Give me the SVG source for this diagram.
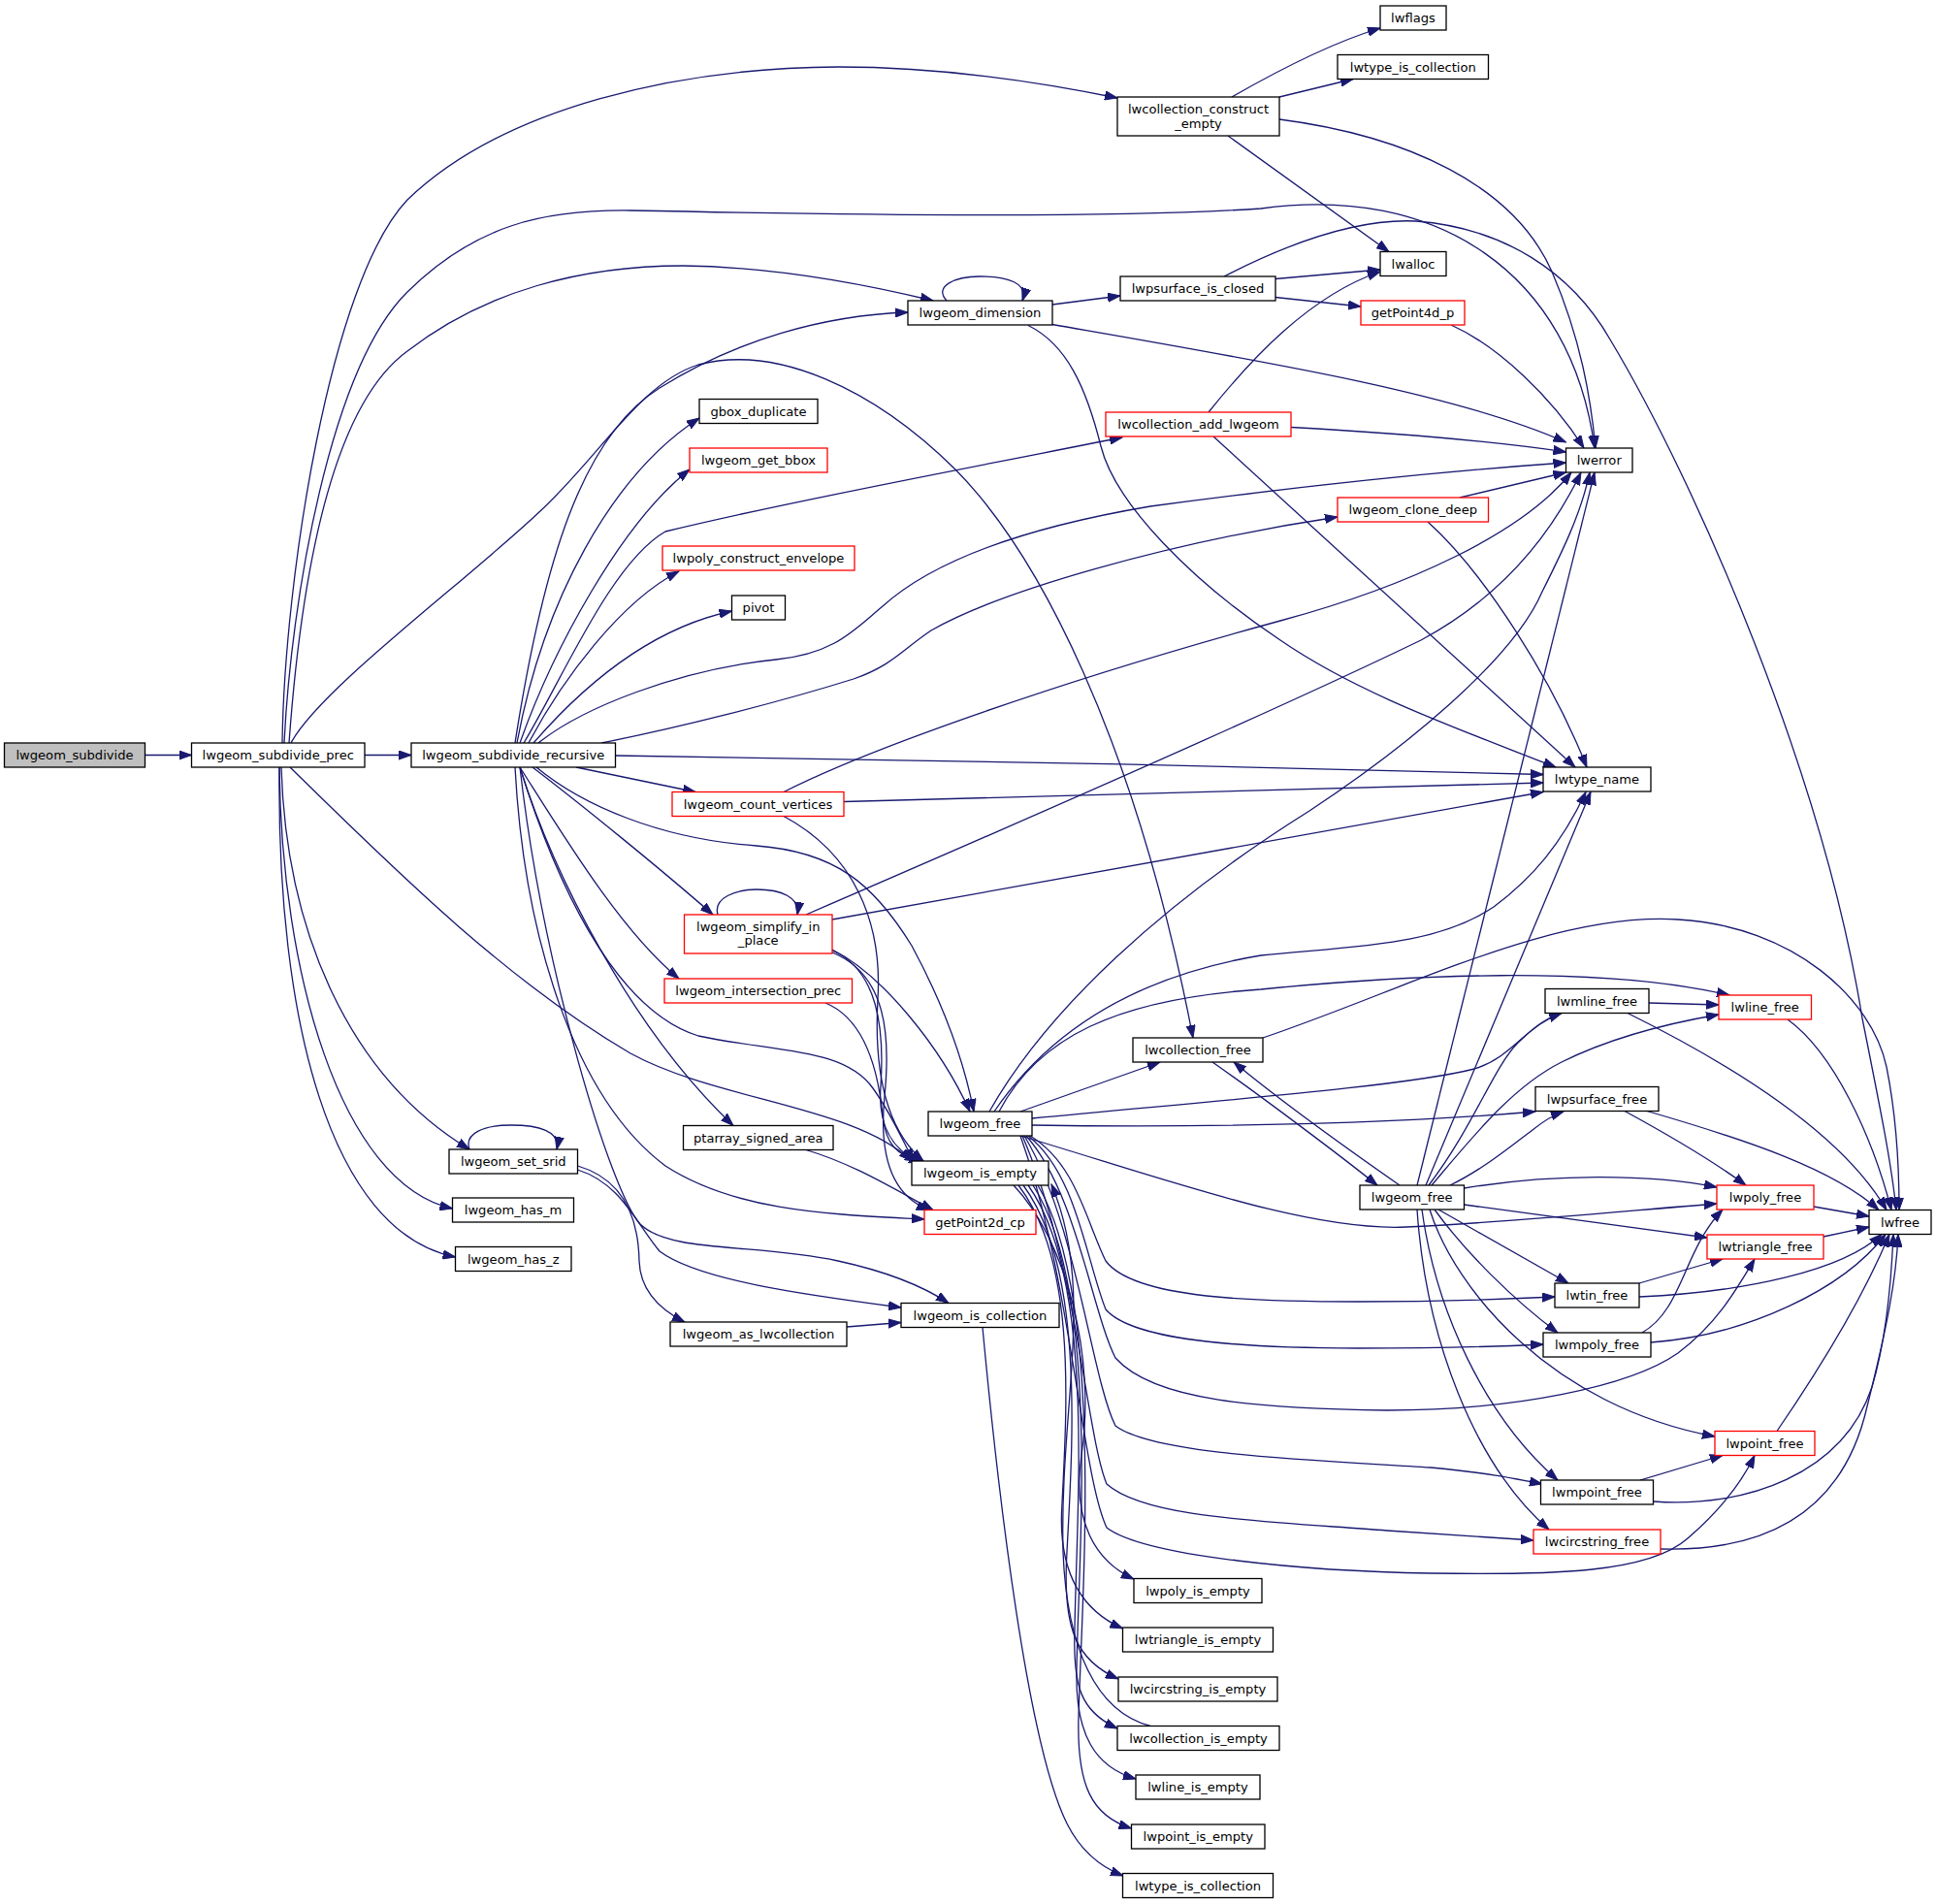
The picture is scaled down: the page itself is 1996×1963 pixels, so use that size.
<svg xmlns="http://www.w3.org/2000/svg" width="1996" height="1963" viewBox="0 0 1996 1963">
<style>
.node rect{fill:#ffffff;stroke:#000000;stroke-width:1.3}
.node rect.red{stroke:#ff0000}
.node rect.root{fill:#bfbfbf}
.node text{font-family:"DejaVu Sans","Liberation Sans",sans-serif;font-size:13.1px;text-anchor:middle;fill:#000000}
.edges path{fill:none;stroke:#191970;stroke-width:1.3;marker-end:url(#arr)}
</style>
<defs>
<marker id="arr" markerUnits="userSpaceOnUse" markerWidth="14" markerHeight="10" viewBox="0 0 14 10" refX="13" refY="5" orient="auto">
<path d="M0,0.4L13,5L0,9.6z" fill="#191970" stroke="#191970" stroke-width="1"/>
</marker>
</defs>
<rect x="0" y="0" width="1996" height="1963" fill="#ffffff"/>
<g id="edges" class="edges">
<path d="M149.5,778.5 L197.5,778.5"/>
<path d="M376,778.5 L424,778.5"/>
<path d="M291,766 C293,600 340,290 420,206 C520,110 700,70 864,69 C960,69 1060,82 1152,101"/>
<path d="M293,766 C300,620 340,380 420,301 C490,232 560,216 650,217 C900,222 1150,225 1300,215 C1480,190 1620,280 1644,462"/>
<path d="M298,766 C310,600 340,420 420,362 C500,300 600,274 704,274 C800,275 900,295 962,310"/>
<path d="M300,766 C330,710 480,600 558,526 C620,468 660,395 720,376 C800,355 900,400 985,484 C1070,570 1170,760 1230,1070"/>
<path d="M299,791 C400,890 520,1010 650,1086 C740,1135 880,1140 940,1197"/>
<path d="M290,791 C295,960 360,1110 484,1185"/>
<path d="M288,791 C290,1000 350,1220 466.5,1246"/>
<path d="M288,791 C285,1050 340,1270 469.5,1296"/>
<path d="M531,766 C560,580 600,450 680,400 C760,350 850,325 936,322"/>
<path d="M533,766 C560,620 630,490 721,431"/>
<path d="M536,766 C570,670 640,540 711,484"/>
<path d="M540,766 C580,700 630,580 686,548 C800,520 1000,482 1157,451"/>
<path d="M545,766 C580,700 640,620 700,589"/>
<path d="M550,766 C590,720 660,650 754.5,630"/>
<path d="M555,766 C600,730 700,690 800,680 C860,674 880,650 910,625 C960,580 1050,545 1186,522 C1350,500 1500,485 1614.5,477"/>
<path d="M620,766 C700,750 800,725 880,700 C920,686 930,670 960,650 C1030,610 1200,560 1379,533"/>
<path d="M634.5,779 C900,782 1300,790 1591,798.5"/>
<path d="M594,791 L717,816.5"/>
<path d="M549,791 C600,830 680,895 735,943"/>
<path d="M536,791 C580,860 640,960 700,1009"/>
<path d="M536,791 C570,900 630,1040 720,1068 C800,1085 870,1080 900,1122 C920,1150 930,1175 942,1197"/>
<path d="M536,791 C570,900 650,1060 756,1160.5"/>
<path d="M531,791 C540,960 590,1130 686,1202 C760,1250 860,1252 953,1257"/>
<path d="M536,791 C560,1000 630,1230 660,1262 C690,1292 780,1282 864,1300 C910,1310 950,1325 978,1343.5"/>
<path d="M553,791 C600,830 680,865 780,872 C860,878 900,910 940,975 C975,1040 995,1100 1004,1146"/>
<path d="M808,816.5 C900,770 1100,700 1320,640 C1450,605 1570,550 1620,487"/>
<path d="M870,826.5 L1591,807"/>
<path d="M808,841.5 C880,880 910,950 905,1030 C900,1120 920,1170 952,1197"/>
<path d="M740,943 C735,925 760,917 780,917 C805,917 825,925 822,943"/>
<path d="M831,943 C1000,870 1300,740 1465,660 C1530,625 1590,570 1630,487"/>
<path d="M858,948 L1591,816.5"/>
<path d="M858,979 C910,1005 970,1080 1000,1146"/>
<path d="M858,980 C905,1000 912,1060 908,1120 C905,1160 920,1185 946,1197"/>
<path d="M858,982 C915,1005 918,1070 912,1130 C905,1200 925,1235 958,1247.5"/>
<path d="M851,1034 C890,1050 905,1100 910,1150 C913,1180 925,1192 950,1197"/>
<path d="M831,1185.5 C880,1200 920,1225 962,1247.5"/>
<path d="M1020,1146 C1080,1040 1200,930 1350,836 C1450,770 1560,680 1590,610 C1610,570 1630,530 1639,487"/>
<path d="M1025,1146 C1070,1080 1150,1010 1300,985 C1400,975 1480,975 1540,935 C1580,905 1610,870 1635,816.5"/>
<path d="M1030,1146 C1070,1070 1150,1030 1300,1020 C1450,1005 1650,995 1783,1026"/>
<path d="M1052,1146 L1196,1095"/>
<path d="M1064,1153 C1250,1135 1450,1120 1520,1102 C1560,1090 1575,1055 1610,1044.5"/>
<path d="M1064,1160 C1250,1163 1450,1158 1583,1146"/>
<path d="M1052,1171 C1200,1215 1350,1270 1450,1265 C1560,1260 1680,1248 1770,1241"/>
<path d="M1062,1171 C1110,1200 1120,1260 1140,1300 C1170,1340 1300,1342 1400,1342 C1500,1342 1560,1339 1603,1337"/>
<path d="M1060,1171 C1110,1210 1120,1300 1140,1350 C1170,1385 1300,1390 1400,1390 C1480,1390 1550,1388 1591,1386"/>
<path d="M1058,1171 C1110,1230 1125,1350 1150,1400 C1190,1445 1300,1452 1430,1454 C1560,1454 1680,1430 1730,1395 C1770,1365 1790,1330 1809,1298"/>
<path d="M1056,1171 C1110,1260 1125,1420 1150,1470 C1190,1500 1350,1505 1475,1513 C1530,1518 1560,1524 1590,1530"/>
<path d="M1054,1171 C1110,1300 1120,1480 1141,1530 C1180,1565 1300,1568 1430,1578 C1500,1583 1550,1586 1581,1588"/>
<path d="M1052,1171 C1105,1320 1115,1520 1141,1575 C1180,1605 1350,1620 1475,1622 C1600,1624 1700,1622 1740,1586 C1770,1560 1795,1530 1809,1500.5"/>
<path d="M1045,1222 C1100,1280 1130,1400 1115,1500 C1105,1570 1130,1610 1169,1628"/>
<path d="M1050,1222 C1110,1300 1100,1450 1095,1550 C1090,1620 1115,1660 1157.5,1679"/>
<path d="M1055,1222 C1120,1310 1105,1500 1100,1600 C1095,1680 1110,1712 1153,1731"/>
<path d="M1060,1222 C1130,1320 1110,1550 1108,1680 C1106,1740 1115,1765 1152,1782"/>
<path d="M1065,1222 C1135,1330 1112,1600 1110,1720 C1108,1790 1130,1822 1171,1834"/>
<path d="M1070,1222 C1140,1340 1115,1650 1112,1770 C1110,1840 1125,1872 1166.5,1885"/>
<path d="M1186,1779.5 C1130,1765 1100,1700 1096,1600 C1092,1450 1130,1330 1084,1221"/>
<path d="M1013,1368.5 C1030,1550 1060,1800 1100,1880 C1115,1910 1135,1925 1158,1934"/>
<path d="M484,1185 C478,1168 500,1160 527,1160 C555,1160 578,1166 574,1185"/>
<path d="M595.5,1202 C640,1215 658,1250 659,1300 C660,1330 680,1350 706,1363"/>
<path d="M595.5,1206 C640,1220 655,1260 680,1290 C720,1320 830,1335 929,1348"/>
<path d="M873,1368 L929,1363.5"/>
<path d="M976,310 C962,295 985,285 1010,285 C1040,285 1060,292 1054,310"/>
<path d="M1085,314 L1155,305"/>
<path d="M1085,334.5 C1300,372 1500,405 1614.5,456"/>
<path d="M1060,335.5 C1100,355 1120,400 1135,460 C1150,520 1230,600 1320,660 C1400,715 1500,750 1604,791"/>
<path d="M1315,287.5 L1423,278"/>
<path d="M1315,306.5 L1403,316"/>
<path d="M1262,285 C1330,250 1400,225 1460,228 C1550,235 1620,280 1660,350 C1750,500 1880,800 1920,1050 C1940,1150 1950,1200 1955,1247.5"/>
<path d="M1270,100 C1310,77 1370,45 1423,29"/>
<path d="M1319,100 L1395,81.5"/>
<path d="M1319,123 C1450,140 1560,190 1600,280 C1630,350 1640,410 1645,462"/>
<path d="M1266,140 L1432,259.5"/>
<path d="M1246,425 C1290,370 1350,305 1423,280"/>
<path d="M1331,440.5 C1450,447 1540,455 1614.5,466"/>
<path d="M1251,450 L1624,791"/>
<path d="M1496,335 C1545,357 1600,410 1633,462"/>
<path d="M1505,513 L1614.5,487"/>
<path d="M1472,538 C1530,590 1600,700 1636,791"/>
<path d="M1302,1070 C1450,1020 1600,940 1730,948 C1850,955 1930,1030 1945,1100 C1955,1150 1958,1200 1958,1247.5"/>
<path d="M1250,1095 C1300,1130 1380,1190 1420,1222"/>
<path d="M1443,1222 C1390,1185 1320,1135 1272,1095"/>
<path d="M1461,1222 L1644,487"/>
<path d="M1470,1222 L1640,816.5"/>
<path d="M1473,1222 C1520,1160 1540,1100 1565,1075 C1580,1060 1595,1050 1610,1044.5"/>
<path d="M1476,1222 C1520,1170 1560,1120 1610,1095 C1660,1070 1720,1055 1772,1046"/>
<path d="M1495,1222 C1530,1205 1560,1180 1580,1165 C1590,1157 1600,1150 1612,1146"/>
<path d="M1509.5,1225 C1600,1210 1700,1210 1770,1224"/>
<path d="M1509.5,1242 L1760,1276"/>
<path d="M1483,1247 L1617,1323"/>
<path d="M1479,1247 C1510,1290 1560,1340 1606,1374"/>
<path d="M1474,1247 C1500,1330 1600,1450 1768,1481"/>
<path d="M1466,1247 C1480,1350 1530,1460 1606,1526"/>
<path d="M1461,1247 C1470,1380 1520,1510 1597,1577"/>
<path d="M1700,1034 L1772,1036"/>
<path d="M1678,1044.5 C1790,1100 1900,1170 1945,1247.5"/>
<path d="M1843,1051 C1890,1085 1930,1170 1950,1247.5"/>
<path d="M1675,1145.5 C1720,1170 1770,1200 1800,1222"/>
<path d="M1698,1145.5 C1800,1175 1890,1205 1937,1247.5"/>
<path d="M1870,1244 L1927,1254"/>
<path d="M1880,1275 L1927,1265"/>
<path d="M1690,1323 L1776,1298"/>
<path d="M1690,1337 C1800,1332 1900,1310 1940,1272.5"/>
<path d="M1693,1374 C1735,1350 1735,1290 1776,1247"/>
<path d="M1702,1384 C1800,1377 1900,1330 1944,1272.5"/>
<path d="M1832,1475.5 C1870,1420 1920,1340 1948,1272.5"/>
<path d="M1691,1526 L1776,1500.5"/>
<path d="M1704.5,1548 C1800,1555 1900,1520 1930,1430 C1945,1380 1950,1320 1952,1272.5"/>
<path d="M1712,1597 C1820,1600 1900,1560 1925,1450 C1945,1370 1955,1320 1957,1272.5"/>
</g>
<g id="n_lwgeom_subdivide" class="node"><rect class="root" x="4.5" y="766" width="145" height="25"/><text x="77" y="783">lwgeom_subdivide</text></g>
<g id="n_lwgeom_subdivide_prec" class="node"><rect x="197.5" y="766" width="178.5" height="25"/><text x="286.75" y="783">lwgeom_subdivide_prec</text></g>
<g id="n_lwgeom_subdivide_recursive" class="node"><rect x="424" y="766" width="210.5" height="25"/><text x="529.25" y="783">lwgeom_subdivide_recursive</text></g>
<g id="n_lwcollection_construct_empty" class="node"><rect x="1152" y="100" width="167" height="40"/><text x="1235.5" y="116.5">lwcollection_construct</text><text x="1235.5" y="131.5">_empty</text></g>
<g id="n_lwflags" class="node"><rect x="1423" y="6" width="68" height="25"/><text x="1457" y="23">lwflags</text></g>
<g id="n_lwtype_is_collection_top" class="node"><rect x="1379" y="56.5" width="155.5" height="25"/><text x="1456.75" y="73.5">lwtype_is_collection</text></g>
<g id="n_lwerror" class="node"><rect x="1614.5" y="462" width="68.5" height="25"/><text x="1648.75" y="479">lwerror</text></g>
<g id="n_lwalloc" class="node"><rect x="1423" y="259.5" width="68" height="25"/><text x="1457" y="276.5">lwalloc</text></g>
<g id="n_lwgeom_dimension" class="node"><rect x="936" y="310" width="149" height="25"/><text x="1010.5" y="327">lwgeom_dimension</text></g>
<g id="n_lwpsurface_is_closed" class="node"><rect x="1155" y="285" width="160" height="25"/><text x="1235" y="302">lwpsurface_is_closed</text></g>
<g id="n_getPoint4d_p" class="node"><rect class="red" x="1403" y="310" width="107" height="25"/><text x="1456.5" y="327">getPoint4d_p</text></g>
<g id="n_gbox_duplicate" class="node"><rect x="721" y="411.5" width="122" height="25"/><text x="782" y="428.5">gbox_duplicate</text></g>
<g id="n_lwgeom_get_bbox" class="node"><rect class="red" x="711" y="462" width="142" height="25"/><text x="782" y="479">lwgeom_get_bbox</text></g>
<g id="n_lwcollection_add_lwgeom" class="node"><rect class="red" x="1140" y="425" width="191" height="25"/><text x="1235.5" y="442">lwcollection_add_lwgeom</text></g>
<g id="n_lwpoly_construct_envelope" class="node"><rect class="red" x="683" y="563" width="198" height="25"/><text x="782" y="580">lwpoly_construct_envelope</text></g>
<g id="n_pivot" class="node"><rect x="754.5" y="614" width="55" height="25"/><text x="782" y="631">pivot</text></g>
<g id="n_lwgeom_clone_deep" class="node"><rect class="red" x="1379" y="513" width="155.5" height="25"/><text x="1456.75" y="530">lwgeom_clone_deep</text></g>
<g id="n_lwtype_name" class="node"><rect x="1591" y="791" width="111" height="25"/><text x="1646.5" y="808">lwtype_name</text></g>
<g id="n_lwgeom_count_vertices" class="node"><rect class="red" x="693" y="816.5" width="177" height="25"/><text x="781.5" y="833.5">lwgeom_count_vertices</text></g>
<g id="n_lwgeom_simplify_in_place" class="node"><rect class="red" x="705.5" y="943" width="152.5" height="40"/><text x="781.75" y="959.5">lwgeom_simplify_in</text><text x="781.75" y="974.3">_place</text></g>
<g id="n_lwgeom_intersection_prec" class="node"><rect class="red" x="685" y="1009" width="193.5" height="25"/><text x="781.75" y="1026">lwgeom_intersection_prec</text></g>
<g id="n_lwcollection_free" class="node"><rect x="1168" y="1070" width="134" height="25"/><text x="1235" y="1087">lwcollection_free</text></g>
<g id="n_lwgeom_free_1" class="node"><rect x="957" y="1146" width="107" height="25"/><text x="1010.5" y="1163">lwgeom_free</text></g>
<g id="n_ptarray_signed_area" class="node"><rect x="704.5" y="1160.5" width="154.5" height="25"/><text x="781.75" y="1177.5">ptarray_signed_area</text></g>
<g id="n_lwgeom_is_empty" class="node"><rect x="940" y="1197" width="141" height="25"/><text x="1010.5" y="1214">lwgeom_is_empty</text></g>
<g id="n_getPoint2d_cp" class="node"><rect class="red" x="953" y="1247.5" width="115" height="25"/><text x="1010.5" y="1264.5">getPoint2d_cp</text></g>
<g id="n_lwmline_free" class="node"><rect x="1593" y="1019.5" width="107" height="25"/><text x="1646.5" y="1036.5">lwmline_free</text></g>
<g id="n_lwline_free" class="node"><rect class="red" x="1772" y="1026" width="95.5" height="25"/><text x="1819.75" y="1043">lwline_free</text></g>
<g id="n_lwpsurface_free" class="node"><rect x="1583" y="1120.5" width="127" height="25"/><text x="1646.5" y="1137.5">lwpsurface_free</text></g>
<g id="n_lwgeom_free_2" class="node"><rect x="1402" y="1222" width="107.5" height="25"/><text x="1455.75" y="1239">lwgeom_free</text></g>
<g id="n_lwpoly_free" class="node"><rect class="red" x="1770" y="1222" width="100" height="25"/><text x="1820" y="1239">lwpoly_free</text></g>
<g id="n_lwfree" class="node"><rect x="1927" y="1247.5" width="64" height="25"/><text x="1959" y="1264.5">lwfree</text></g>
<g id="n_lwtriangle_free" class="node"><rect class="red" x="1760" y="1273" width="120" height="25"/><text x="1820" y="1290">lwtriangle_free</text></g>
<g id="n_lwtin_free" class="node"><rect x="1603" y="1323" width="87" height="25"/><text x="1646.5" y="1340">lwtin_free</text></g>
<g id="n_lwmpoly_free" class="node"><rect x="1591" y="1374" width="111" height="25"/><text x="1646.5" y="1391">lwmpoly_free</text></g>
<g id="n_lwpoint_free" class="node"><rect class="red" x="1768" y="1475.5" width="103" height="25"/><text x="1819.5" y="1492.5">lwpoint_free</text></g>
<g id="n_lwmpoint_free" class="node"><rect x="1588.5" y="1526" width="116" height="25"/><text x="1646.5" y="1543">lwmpoint_free</text></g>
<g id="n_lwcircstring_free" class="node"><rect class="red" x="1581" y="1577" width="131" height="25"/><text x="1646.5" y="1594">lwcircstring_free</text></g>
<g id="n_lwgeom_set_srid" class="node"><rect x="463" y="1185" width="132.5" height="25"/><text x="529.25" y="1202">lwgeom_set_srid</text></g>
<g id="n_lwgeom_has_m" class="node"><rect x="466.5" y="1235" width="125" height="25"/><text x="529" y="1252">lwgeom_has_m</text></g>
<g id="n_lwgeom_has_z" class="node"><rect x="469.5" y="1285.5" width="119.5" height="25"/><text x="529.25" y="1302.5">lwgeom_has_z</text></g>
<g id="n_lwgeom_as_lwcollection" class="node"><rect x="691" y="1363" width="182" height="25"/><text x="782" y="1380">lwgeom_as_lwcollection</text></g>
<g id="n_lwgeom_is_collection" class="node"><rect x="929" y="1343.5" width="163" height="25"/><text x="1010.5" y="1360.5">lwgeom_is_collection</text></g>
<g id="n_lwpoly_is_empty" class="node"><rect x="1169" y="1627.5" width="132" height="25"/><text x="1235" y="1644.5">lwpoly_is_empty</text></g>
<g id="n_lwtriangle_is_empty" class="node"><rect x="1157.5" y="1678" width="155" height="25"/><text x="1235" y="1695">lwtriangle_is_empty</text></g>
<g id="n_lwcircstring_is_empty" class="node"><rect x="1153" y="1729" width="164" height="25"/><text x="1235" y="1746">lwcircstring_is_empty</text></g>
<g id="n_lwcollection_is_empty" class="node"><rect x="1152" y="1779.5" width="167" height="25"/><text x="1235.5" y="1796.5">lwcollection_is_empty</text></g>
<g id="n_lwline_is_empty" class="node"><rect x="1171" y="1830" width="128" height="25"/><text x="1235" y="1847">lwline_is_empty</text></g>
<g id="n_lwpoint_is_empty" class="node"><rect x="1166.5" y="1881" width="137.5" height="25"/><text x="1235.25" y="1898">lwpoint_is_empty</text></g>
<g id="n_lwtype_is_collection_bottom" class="node"><rect x="1157.5" y="1931.5" width="155" height="25"/><text x="1235" y="1948.5">lwtype_is_collection</text></g>
</svg>
